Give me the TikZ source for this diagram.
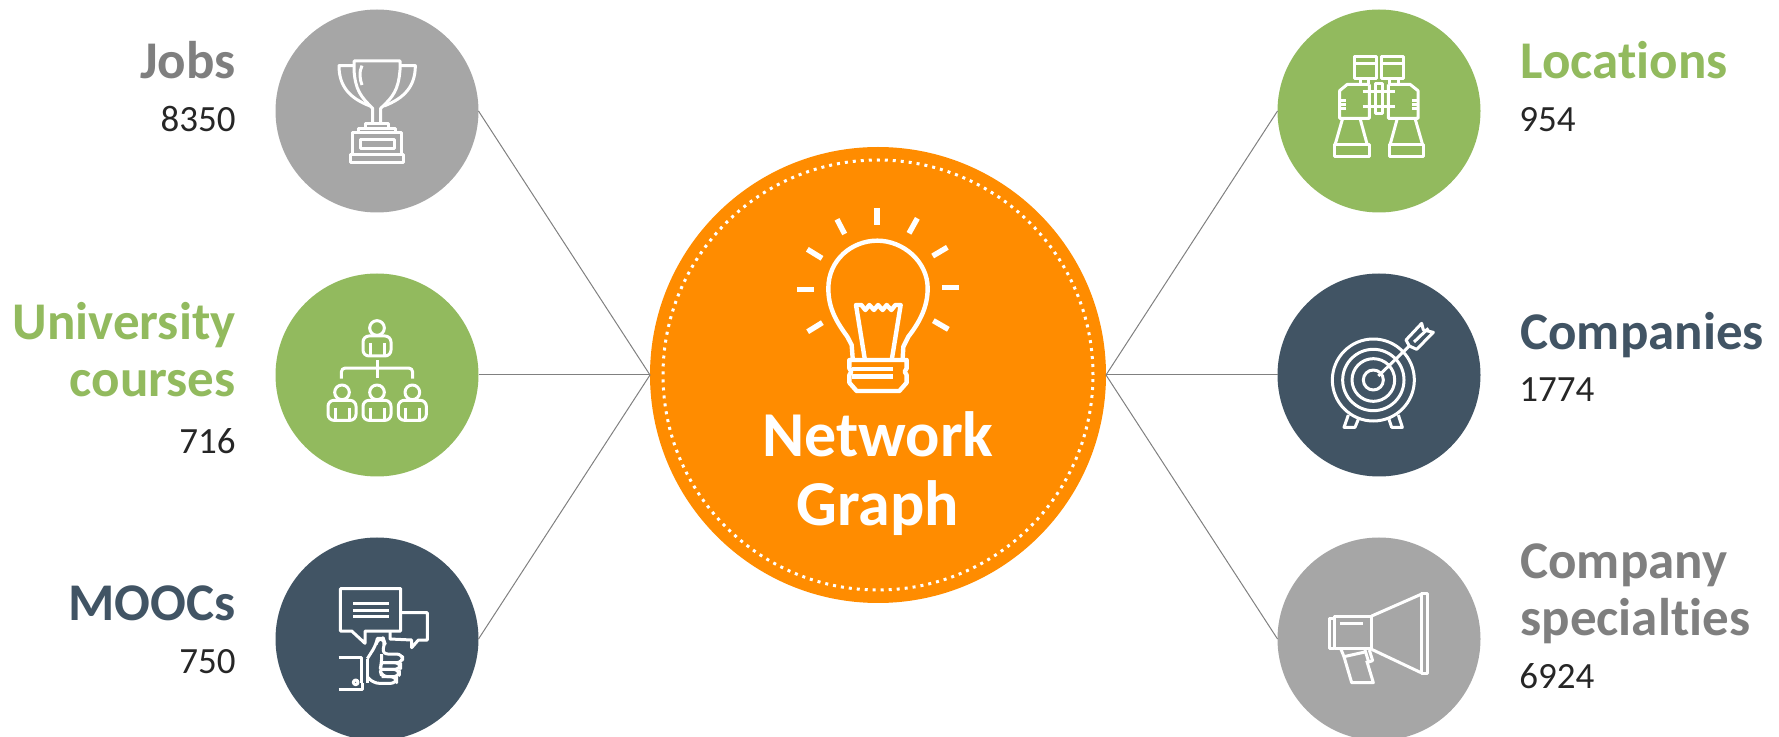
\documentclass[tikz,border=0pt]{standalone}
\usepackage{fontspec}
\setmainfont{Carlito}[Ligatures=NoCommon]
\definecolor{hubOrange}{HTML}{FF8C00}
\definecolor{topicGray}{HTML}{A6A6A6}
\definecolor{topicGreen}{HTML}{92BA5E}
\definecolor{topicSlate}{HTML}{415464}
\definecolor{textGray}{HTML}{7F7F7F}
\definecolor{linkGray}{HTML}{808080}
\tikzset{
	topic/.style={circle, fill=#1, inner sep=0pt, outer sep=0pt, minimum size=101.5pt},
	headlabel/.style={font=\bfseries\fontsize{26.5}{28.5}\selectfont, text=#1, inner sep=0pt, anchor=base east, align=right},
	headlabelr/.style={font=\bfseries\fontsize{26.5}{28.5}\selectfont, text=#1, inner sep=0pt, anchor=base west, align=left},
	countl/.style={font=\fontsize{18.5}{22}\selectfont, text=black!85, inner sep=0pt, anchor=base east},
	countr/.style={font=\fontsize{18.5}{22}\selectfont, text=black!85, inner sep=0pt, anchor=base west},
	link/.style={draw=linkGray, line width=.5pt},
	zoomed/.style={x=.16667pt, y=-.16667pt},
	iconline/.style={draw=white, line width=#1, line join=round},
	iconline/.default=1.5pt
}
\newcommand{\personicon}[2]{
	\begin{scope}[shift={(#1,#2)}]
		\draw[iconline] (0,0) circle (22);
		\draw[iconline, rounded corners=3pt] (-42,84) -- (-42,24) -- (42,24) -- (42,84) -- cycle;
		\draw[iconline] (-21,46) -- (-21,84);
		\draw[iconline] (21,46) -- (21,84);
	\end{scope}
}
\begin{document}
\begin{tikzpicture}[x=.5pt, y=-.5pt]
	\useasboundingbox (0,0) rectangle (1779,737);
	\node[circle, fill=hubOrange, inner sep=0pt, outer sep=0pt, minimum size=228pt] (hub) at (878,375) {};
	\node[circle, draw=white, line width=1.5pt, dash pattern=on 1.5pt off 2.5pt, inner sep=0pt, minimum size=215pt] (hubring) at (878,375) {};
	\node[topic=topicGray] (jobs) at (377,111) {};
	\node[topic=topicGreen] (courses) at (377,375) {};
	\node[topic=topicSlate] (moocs) at (377,639) {};
	\node[topic=topicGreen] (locations) at (1379,111) {};
	\node[topic=topicSlate] (companies) at (1379,375) {};
	\node[topic=topicGray] (specialties) at (1379,639) {};
	\draw[link] (jobs.east) -- (hub.west);
	\draw[link] (courses.east) -- (hub.west);
	\draw[link] (moocs.east) -- (hub.west);
	\draw[link] (locations.west) -- (hub.east);
	\draw[link] (companies.west) -- (hub.east);
	\draw[link] (specialties.west) -- (hub.east);
	\node[headlabel=textGray] (jobslabel) at (236,79) {Jobs};
	\node[countl] (jobscount) at (236,132) {8350};
	\node[headlabel=topicGreen] (courseslabel) at (236,397) {University\\courses};
	\node[countl] (coursescount) at (236,454) {716};
	\node[headlabel=topicSlate] (moocslabel) at (236,621) {MOOCs};
	\node[countl] (moocscount) at (236,674) {750};
	\node[headlabelr=topicGreen] (locationslabel) at (1520,79) {Locations};
	\node[countr] (locationscount) at (1519,132) {954};
	\node[headlabelr=topicSlate] (companieslabel) at (1520,350) {Companies};
	\node[countr] (companiescount) at (1519,402) {1774};
	\node[headlabelr=textGray] (specialtieslabel) at (1520,636) {Company\\specialties};
	\node[countr] (specialtiescount) at (1519,689) {6924};
	\node[font=\bfseries\fontsize{32}{34.5}\selectfont, text=white, inner sep=0pt, align=center, anchor=base] (hubtext) at (878,526) {Network\\Graph};
	\begin{scope}[shift={(760,190)}, zoomed]
		\draw[iconline=2.7pt] (351,54) -- (351,104);
		\draw[iconline=2.7pt] (231,88) -- (254,132);
		\draw[iconline=2.7pt] (142,178) -- (186,205);
		\draw[iconline=2.7pt] (112,299) -- (162,299);
		\draw[iconline=2.7pt] (143,425) -- (187,398);
		\draw[iconline=2.7pt] (472,85) -- (447,130);
		\draw[iconline=2.7pt] (562,172) -- (518,198);
		\draw[iconline=2.7pt] (546,293) -- (597,293);
		\draw[iconline=2.7pt] (520,392) -- (565,418);
		\draw[iconline=2.2pt] (278,505) -- (275,465) -- (262,440) .. controls (225,390) and (205,350) .. (205,295) .. controls (205,210) and (275,152) .. (352,152) .. controls (430,152) and (503,215) .. (503,295) .. controls (503,350) and (480,395) .. (445,440) -- (430,470) -- (428,505);
		\draw[iconline=2.2pt] (314,505) -- (288,345) -- (304,345) -- (316,360) -- (328,345) -- (342,360) -- (354,345) -- (368,360) -- (380,345) -- (394,360) -- (406,345) -- (422,345) -- (396,505);
		\draw[iconline=2.2pt] (268,510) -- (440,510) -- (440,535) -- (434,545) -- (440,555) -- (440,578) -- (418,603) -- (290,603) -- (268,578) -- (268,555) -- (274,545) -- (268,535) -- cycle;
		\draw[iconline=2.2pt] (275,537) -- (400,537);
		\draw[iconline=2.2pt] (275,560) -- (400,560);
	\end{scope}
	\begin{scope}[shift={(270,0)}, zoomed]
		\draw[iconline] (252,210) -- (252,183) -- (390,183) -- (390,210) .. controls (385,270) and (370,290) .. (332,325) -- (332,372);
		\draw[iconline] (252,210) .. controls (256,270) and (272,290) .. (308,325) -- (308,372);
		\draw[iconline] (252,197) -- (207,197) .. controls (207,260) and (240,295) .. (300,318);
		\draw[iconline] (390,197) -- (436,197) .. controls (436,260) and (402,295) .. (342,318);
		\draw[iconline] (276,197) .. controls (266,215) and (270,240) .. (276,255);
		\draw[iconline] (285,382) -- (285,372) -- (355,372) -- (355,382);
		\draw[iconline] (265,396) -- (265,385) -- (375,385) -- (375,396);
		\draw[iconline] (247,397) rectangle (395,462);
		\draw[iconline] (270,420) rectangle (372,447);
		\draw[iconline] (242,462) rectangle (400,486);
	\end{scope}
	\begin{scope}[shift={(270,270)}, zoomed]
		\personicon{321}{174}
		\personicon{216}{367}
		\personicon{321}{367}
		\personicon{427}{367}
		\draw[iconline] (321,270) -- (321,324);
		\draw[iconline, rounded corners=2pt] (214,326) -- (214,294) -- (428,294) -- (428,326);
	\end{scope}
	\begin{scope}[shift={(270,530)}, zoomed]
		\draw[iconline] (211,176) -- (392,176) -- (392,303) -- (285,303) -- (285,340) -- (245,303) -- (211,303) -- cycle;
		\draw[iconline] (250,219) -- (357,219);
		\draw[iconline] (250,240) -- (357,240);
		\draw[iconline] (250,260) -- (357,260);
		\draw[iconline] (392,248) -- (472,248) -- (472,330) -- (445,330) -- (425,353) -- (425,330) -- (360,327) -- (360,305);
		\draw[iconline] (206,381) -- (275,381) -- (275,460);
		\draw[iconline] (206,477) -- (278,477) -- (278,460);
		\draw[iconline] (257,457) circle (7);
		\draw[iconline] (292,386) -- (292,460);
		\draw[iconline, rounded corners=3pt] (292,386) -- (318,345) -- (322,325) -- (340,325) -- (345,340) -- (335,372) -- (398,372) -- (398,398) -- (335,398);
		\draw[iconline, rounded corners=3pt] (335,398) -- (392,398) -- (392,418) -- (335,418);
		\draw[iconline, rounded corners=3pt] (335,418) -- (388,418) -- (388,440) -- (335,440);
		\draw[iconline, rounded corners=3pt] (292,440) -- (310,460) -- (380,460) -- (380,440) -- (335,440) -- (330,418) -- (335,398) -- (335,372);
	\end{scope}
	\begin{scope}[shift={(1270,0)}, zoomed]
		\draw[iconline] (254,171) rectangle (319,235);
		\draw[iconline] (254,190) -- (319,190);
		\draw[iconline] (335,171) rectangle (399,235);
		\draw[iconline] (335,190) -- (399,190);
		\draw[iconline] (270,235) -- (270,253);
		\draw[iconline] (295,235) -- (295,253);
		\draw[iconline] (358,235) -- (358,253);
		\draw[iconline] (385,235) -- (385,253);
		\draw[iconline] (298,253) -- (232,253) -- (209,272) -- (209,355) -- (298,355) -- (298,253);
		\draw[iconline] (355,253) -- (420,253) -- (444,272) -- (444,355) -- (355,355) -- (355,253);
		\draw[iconline] (315,250) rectangle (337,340);
		\draw[iconline] (278,275) -- (375,275);
		\draw[iconline] (278,320) -- (375,320);
		\draw[iconline] (213,303) -- (228,303);
		\draw[iconline] (213,315) -- (228,315);
		\draw[iconline] (213,326) -- (228,326);
		\draw[iconline] (425,303) -- (440,303);
		\draw[iconline] (425,315) -- (440,315);
		\draw[iconline] (425,326) -- (440,326);
		\draw[iconline] (218,355) -- (195,435);
		\draw[iconline] (270,355) -- (292,435);
		\draw[iconline] (193,435) rectangle (297,470);
		\draw[iconline] (382,355) -- (360,435);
		\draw[iconline] (435,355) -- (458,435);
		\draw[iconline] (357,435) rectangle (460,470);
	\end{scope}
	\begin{scope}[shift={(1270,270)}, zoomed]
		\draw[iconline] (310,330) circle (123);
		\draw[iconline] (310,330) circle (92);
		\draw[iconline] (310,330) circle (64);
		\draw[iconline] (310,330) circle (30);
		\draw[iconline] (325,318) -- (418,228);
		\draw[iconline] (418,228) -- (408,210) -- (455,160) -- (460,180) -- (490,187) -- (440,238) -- cycle;
		\draw[iconline] (432,216) -- (475,175);
		\draw[iconline] (235,435) -- (222,472) -- (255,472) -- (265,448);
		\draw[iconline] (357,448) -- (365,472) -- (397,472) -- (385,435);
	\end{scope}
	\begin{scope}[shift={(1270,530)}, zoomed]
		\draw[iconline] (193,260) rectangle (305,356);
		\draw[iconline] (193,265) -- (178,265) -- (178,354) -- (193,354);
		\draw[iconline] (210,281) -- (278,281);
		\draw[iconline] (305,258) -- (453,193);
		\draw[iconline] (305,358) -- (453,428);
		\draw[iconline] (453,190) rectangle (473,430);
		\draw[iconline] (222,380) -- (245,458) -- (310,458) -- (290,392);
		\draw[iconline] (213,358) -- (222,380) -- (285,366);
		\draw[iconline] (285,360) -- (296,396) -- (308,392) -- (298,360);
	\end{scope}
\end{tikzpicture}
\end{document}
